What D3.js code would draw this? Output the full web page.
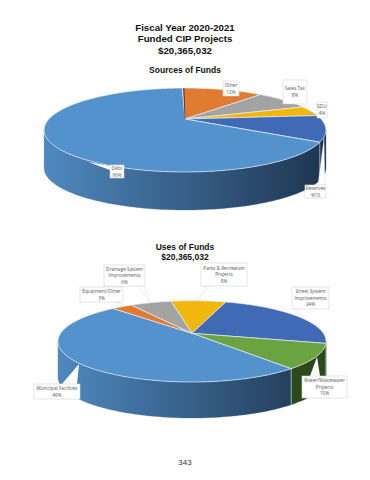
<!DOCTYPE html>
<html>
<head>
<meta charset="utf-8">
<script src="https://cdn.jsdelivr.net/npm/d3@7"></script>
<style>
  html, body { margin: 0; padding: 0; background: #fff; }
  svg { display: block; }
</style>
</head>
<body>
<div id="chart"></div>
<script>
const titleLines = ["Fiscal Year 2020-2021", "Funded CIP Projects", "$20,365,032"];
const sourceTitle = ["Sources of Funds"];
const useTitle = ["Uses of Funds", "$20,365,032"];
const pageNumber = "343";

// sources of funds, clockwise from the top
const sourceNames = ["Other", "Sales Tax", "SDU", "Reserves", "Debt"];
const sourceValues = [12, 8, 4, 10, 66];
const sourceLabels = ["12%", "8%", "4%", "%10", "66%"];
const sourceColors = ["#e07b32", "#a3a3a3", "#f2b70c", "#4069b6", "#5392cd"];

// uses of funds, clockwise from parks
const useNames = ["Parks & Recreation Projects", "Street System Improvements", "Water/Wastewater Projects",
                  "Municipal Facilities", "Equipment/Other", "Drainage System Improvements"];
const useValues = [8, 24, 10, 49, 3, 6];
const useLabels = ["8%", "24%", "10%", "49%", "3%", "6%"];
const useColors = ["#f2b70c", "#4069b6", "#6aa341", "#5392cd", "#e07b32", "#a3a3a3"];

const width = 370, height = 480;

const svg = d3.select("#chart").append("svg")
    .attr("width", width)
    .attr("height", height)
    .attr("viewBox", [0, 0, width, height])
    .style("font-family", "'Liberation Sans', Arial, sans-serif");

const defs = svg.append("defs");

// dark shaded side of the pie, goes lighter to darker from left to right
function wallGradient(id, x1, x2, from, to) {
    let g = defs.append("linearGradient")
        .attr("id", id)
        .attr("gradientUnits", "userSpaceOnUse")
        .attr("x1", x1).attr("x2", x2).attr("y1", 0).attr("y2", 0);
    g.append("stop").attr("offset", "0%").attr("stop-color", from);
    g.append("stop").attr("offset", "100%").attr("stop-color", to);
}
wallGradient("wall1", 43, 325, "#4f89c0", "#1e3550");
wallGradient("wall2", 58, 326, "#4f89c0", "#1e3550");

// the pie plane seen in perspective: a circle maps to an ellipse with the apex off centre
function projector(p) {
    return (angle, drop = 0) => {
        let u = Math.sin(angle), v = -Math.cos(angle);
        let s = 1 / (1 + p.k * v);
        return [p.cx + p.r * u * s, p.cy + p.a * v * s + drop];
    };
}

function arcPoints(project, a0, a1, drop) {
    let n = Math.max(2, Math.ceil((a1 - a0) / 0.02));
    return d3.range(n + 1).map(i => project(a0 + (a1 - a0) * i / n, drop));
}

const line = d3.line();

function drawPie(p, values, colors, wallColors) {
    let project = projector(p);
    let pie = d3.pie().sort(null).startAngle(p.start).endAngle(p.start + 2 * Math.PI)(values);
    let g = svg.append("g");

    // the wall is only seen between the left and right extremes of the ellipse
    let tilt = Math.asin(-p.k);
    pie.forEach((d, i) => {
        let a0 = Math.max(d.startAngle, Math.PI / 2 + tilt);
        let a1 = Math.min(d.endAngle, 3 * Math.PI / 2 - tilt);
        if (a1 <= a0) return;
        let top = arcPoints(project, a0, a1, 0);
        let bottom = arcPoints(project, a0, a1, p.depth).reverse();
        g.append("path")
            .attr("d", line(top.concat(bottom)) + "Z")
            .attr("fill", wallColors[i])
            .attr("stroke", wallColors[i])
            .attr("stroke-width", 0.3);
        // thin light edge where a slice meets the next one on the wall
        if (a0 > Math.PI / 2 + tilt) {
            g.append("path")
                .attr("d", line([project(a0, 0), project(a0, p.depth)]))
                .attr("stroke", "#dfe6ee")
                .attr("stroke-width", 0.6);
        }
    });

    // top face
    pie.forEach((d, i) => {
        let pts = [[p.cx, p.cy]].concat(arcPoints(project, d.startAngle, d.endAngle, 0));
        g.append("path")
            .attr("d", line(pts) + "Z")
            .attr("fill", colors[i])
            .attr("stroke", "#e8eef5")
            .attr("stroke-width", 0.7)
            .attr("stroke-linejoin", "round");
    });
    return project;
}

const projectSources = drawPie({cx: 185, cy: 119, r: 136, a: 39.1, k: -0.262, depth: 38, start: -1.5 * Math.PI / 180},
    sourceValues, sourceColors, ["#333", "#333", "#333", "#1a2c4e", "url(#wall1)"]);

// dark sliver at the start of the first slice
svg.append("path")
    .attr("d", line([[185, 119], projectSources(-0.6 * Math.PI / 180, 0)]))
    .attr("stroke", "#2a2a2a")
    .attr("stroke-width", 0.8);

drawPie({cx: 192, cy: 333.3, r: 131.4, a: 39.06, k: -0.198, depth: 36, start: -11 * Math.PI / 180},
    useValues, useColors, ["#333", "#1a2c4e", "#2b4a1b", "url(#wall2)", "#333", "#333"]);

// callout box with its lines of text and a wedge pointing at the pie
function callout(x, y, w, h, lines, wedge, wedgeStroke) {
    if (wedge) {
        svg.append("path")
            .attr("d", line(wedge) + "Z")
            .attr("fill", "#fff")
            .attr("stroke", wedgeStroke || "none")
            .attr("stroke-width", 0.4);
    }
    svg.append("rect")
        .attr("x", x).attr("y", y).attr("width", w).attr("height", h)
        .attr("fill", "#fff")
        .attr("stroke", "#d4d4d4")
        .attr("stroke-width", 0.6);
    let lineH = 6.7;
    let y0 = y + h / 2 - (lines.length - 1) * lineH / 2 + 1.7;
    lines.forEach((t, i) => {
        svg.append("text")
            .attr("x", x + w / 2)
            .attr("y", y0 + i * lineH)
            .attr("text-anchor", "middle")
            .attr("font-family", "'Open Sans', sans-serif")
            .attr("font-size", 4.7)
            .attr("fill", "#555")
            .text(t);
    });
}

callout(223, 81, 16, 15, [sourceNames[0], sourceLabels[0]]);
callout(283, 80, 24, 24, [sourceNames[1], sourceLabels[1]]);
callout(317, 102, 10, 16, [sourceNames[2], sourceLabels[2]]);
callout(305, 185, 21, 13, [sourceNames[3], sourceLabels[3]], [[324, 138], [318, 185], [325, 185]], "#d6d6d6");
callout(110, 165, 14, 13, [sourceNames[4], sourceLabels[4]], [[88, 162], [110, 166], [110, 170]]);

callout(201, 263, 46, 23, ["Parks & Recreation", "Projects", useLabels[0]], [[198, 301], [205, 286], [209, 286]], "#d6d6d6");
callout(292, 287, 37, 22, ["Street System", "Improvements", useLabels[1]], [[300, 316], [293, 309], [297, 309]], "#d6d6d6");
callout(302, 376, 45, 22, ["Water/Wastewater", "Projects", useLabels[2]], [[317, 357], [310, 376], [320, 376]]);
callout(34, 384, 46, 15, [useNames[3], useLabels[3]], [[79, 364], [62, 384], [77, 384]]);
callout(80, 287, 43, 15, [useNames[4], useLabels[4]], [[123, 306], [115, 302], [119, 302]], "#d6d6d6");
callout(104, 265, 41, 21, ["Drainage System", "Improvements", useLabels[5]], [[150, 302], [138, 286], [144, 286]], "#d6d6d6");

// titles
function titleBlock(lines, x, y, size, step) {
    lines.forEach((t, i) => {
        svg.append("text")
            .attr("x", x).attr("y", y + i * step)
            .attr("text-anchor", "middle")
            .attr("font-weight", "bold")
            .attr("font-size", size)
            .attr("fill", "#111")
            .text(t);
    });
}
titleBlock(titleLines, 185, 31, 9.7, 11.4);
titleBlock(sourceTitle, 185, 73, 8.5, 0);
titleBlock(useTitle, 185, 250, 8.5, 10);

svg.append("text")
    .attr("x", 185).attr("y", 465)
    .attr("text-anchor", "middle")
    .attr("font-size", 8)
    .attr("fill", "#333")
    .text(pageNumber);
</script>
</body>
</html>
